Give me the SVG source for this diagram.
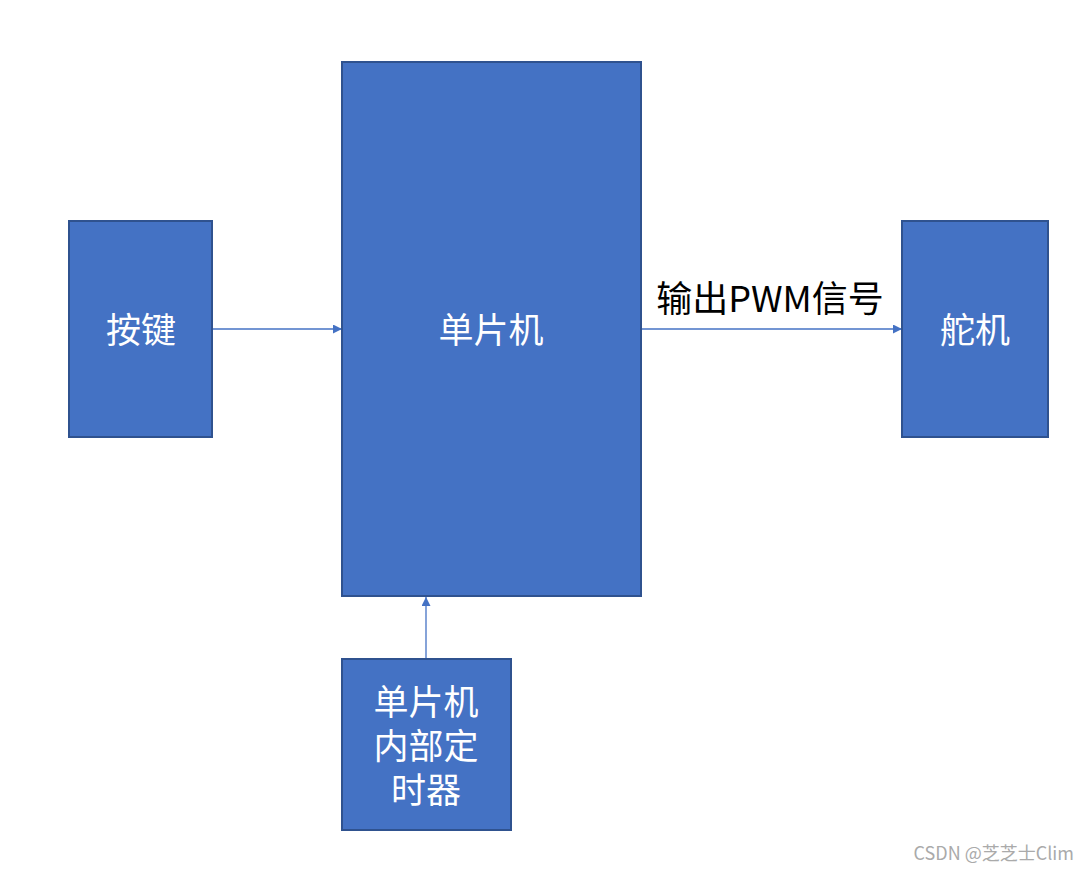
<svg xmlns="http://www.w3.org/2000/svg" width="1089" height="872" viewBox="0 0 1089 872">
<style>
.box{fill:#4472C4;stroke:#2F528F;stroke-width:2}
.t{fill:#fff;font-family:"Noto Sans CJK SC","Noto Sans",sans-serif;font-size:35px;text-anchor:middle}
.c{stroke:#4472C4;stroke-width:1.3;fill:none;marker-end:url(#a)}
</style>
<defs><marker id="a" viewBox="0 0 10 10" refX="10" refY="5" markerWidth="9" markerHeight="9" markerUnits="userSpaceOnUse" orient="auto"><path d="M0,0L10,5L0,10z" fill="#4472C4"/></marker></defs>
<rect width="1089" height="872" fill="#fff"/>
<g id="connectors">
<line class="c" x1="213" y1="329" x2="342" y2="329"/>
<line class="c" x1="642" y1="329" x2="902" y2="329"/>
<line class="c" x1="426" y1="658" x2="426" y2="597"/>
<text x="770" y="312" font-family="Noto Sans CJK SC,Noto Sans,sans-serif" font-size="36" text-anchor="middle" fill="#000">输出PWM信号</text>
</g>
<g id="key"><rect class="box" x="69" y="221" width="143" height="216"/><text class="t" x="141" y="343">按键</text></g>
<g id="mcu"><rect class="box" x="342" y="62" width="299" height="534"/><text class="t" x="491" y="343">单片机</text></g>
<g id="servo"><rect class="box" x="902" y="221" width="146" height="216"/><text class="t" x="975" y="343">舵机</text></g>
<g id="timer"><rect class="box" x="342" y="659" width="169" height="171"/><text class="t" x="426" y="715">单片机</text><text class="t" x="426" y="759">内部定</text><text class="t" x="426" y="803">时器</text></g>
<text x="1074" y="860" font-family="Noto Sans CJK SC,Noto Sans,sans-serif" font-size="18" text-anchor="end" fill="#aaa">CSDN @芝芝士Clim</text>
</svg>
